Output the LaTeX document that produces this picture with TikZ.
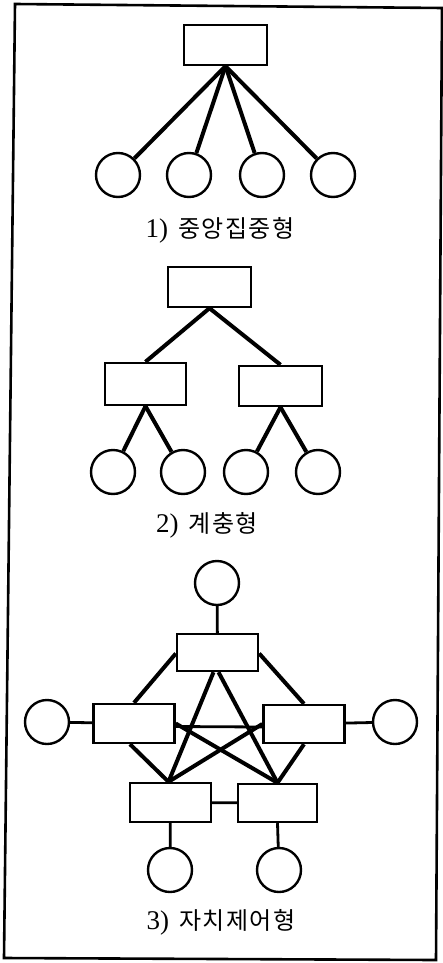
\documentclass[tikz,border=0pt]{standalone}
\usepackage{fontspec}
\newfontfamily\cjk[LetterSpace=6]{Noto Sans CJK KR}
\setmainfont{Liberation Serif}
\begin{document}
\begin{tikzpicture}[x=1pt,y=-1pt,
  box/.style={draw,line width=2.4pt,minimum width=81pt,minimum height=39pt,inner sep=0pt},
  ball/.style={draw,circle,line width=2.4pt,minimum size=44pt,inner sep=0pt},
  link/.style={line width=4pt},
  thin link/.style={line width=2.8pt},
  lbl/.style={font=\fontsize{27}{30}\selectfont,inner sep=0pt}]
\useasboundingbox (0,0) rectangle (443,963);
\draw[line width=2.6pt] (15,4) -- (442,8) -- (436,960) -- (4,958) -- cycle;
% 1) central
\node[box,minimum width=83pt,minimum height=40pt] (c0) at (225.5,45) {};
\node[ball] (c1) at (118,175) {};
\node[ball] (c2) at (189,175) {};
\node[ball] (c3) at (262,175) {};
\node[ball] (c4) at (333,175) {};
\foreach \i in {1,...,4} \draw[link] (c0.south) -- (c\i);
\node[lbl] (l1) at (220,230) {1)\hspace{10pt}{\cjk\fontsize{24}{26}\selectfont 중앙집중형}};
% 2) hierarchical
\node[box,minimum width=83pt,minimum height=40pt] (h0) at (209.5,287) {};
\node[box,minimum height=42pt] (h1) at (145.5,384) {};
\node[box,minimum width=83pt,minimum height=40pt] (h2) at (280.5,386) {};
\node[ball] (h11) at (113,472) {};
\node[ball] (h12) at (183,472) {};
\node[ball] (h21) at (246,472) {};
\node[ball] (h22) at (318,472) {};
\draw[link] (h0.south) -- (h1.north);
\draw[link] (h0.south) -- (h2.north);
\draw[link] (h1.south) -- (h11);
\draw[link] (h1.south) -- (h12);
\draw[link] (h2.south) -- (h21);
\draw[link] (h2.south) -- (h22);
\node[lbl] (l2) at (207,525) {2)\hspace{10pt}{\cjk\fontsize{24}{26}\selectfont 계충형}};
% 3) autonomous
\node[ball] (st) at (217,583) {};
\node[box,minimum height=37pt] (a0) at (217.5,652.5) {};
\node[box] (a1) at (134,723.5) {};
\node[box,minimum height=38pt] (a2) at (304,724) {};
\node[box] (a3) at (170.5,802.5) {};
\node[box,minimum width=79pt,minimum height=38pt] (a4) at (277.5,803) {};
\node[ball] (sl) at (47,722) {};
\node[ball] (sr) at (395,722) {};
\node[ball] (sb1) at (170,870) {};
\node[ball] (sb2) at (279,870) {};
\draw[thin link] (st) -- (a0);
\draw[thin link] (sl) -- (a1);
\draw[thin link] (a2) -- (sr);
\draw[thin link] (a3) -- (a4);
\draw[thin link] (a3) -- (sb1);
\draw[thin link] (a4.south) -- (sb2);
\draw[link] (a0.west) ++(0,1) -- (a1.north);
\draw[link] (a0.east) ++(0,1) -- (a2.north);
\draw[link] ([xshift=-4pt]a0.south) -- ([xshift=-2pt]a3.north);
\draw[link] ([xshift=1pt]a0.south) -- (a4.north);
\draw[link] ([xshift=-4pt]a1.south) -- ([xshift=-2pt]a3.north);
\draw[link] (a2.south) -- (a4.north);
\draw[thin link] ([yshift=-3pt]a1.east) -- ([yshift=-3pt]a2.west);
\draw[link] (a1.east) -- (a4.north);
\draw[link] (a2.west) -- ([xshift=-2pt]a3.north);
\node[lbl] (l3) at (221,922) {3)\hspace{10pt}{\cjk\fontsize{24}{26}\selectfont 자치제어형}};
\end{tikzpicture}
\end{document}
